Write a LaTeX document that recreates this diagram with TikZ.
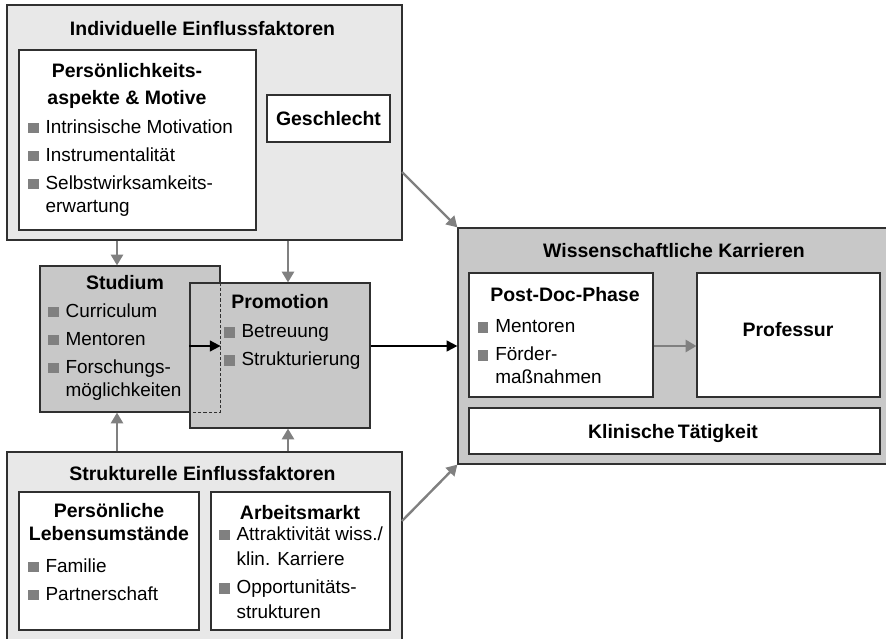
\documentclass[tikz,border=0pt]{standalone}
\usepackage{fontspec}
\setmainfont{Liberation Sans}
\usetikzlibrary{fit, arrows.meta}

\definecolor{lightbg}{HTML}{E8E8E8}
\definecolor{midbg}{HTML}{C8C8C8}
\definecolor{bulletgray}{HTML}{808080}
\definecolor{arrowgray}{HTML}{808080}
\definecolor{edgegray}{HTML}{303030}

\newcommand{\listbullet}{\textcolor{bulletgray}{\rule{7.8pt}{7.8pt}}\hspace{5.2pt}}
\newcommand{\listindent}{\hspace*{13pt}}

\begin{document}
\begin{tikzpicture}[x=0.75pt, y=-0.75pt,
    box/.style={draw=edgegray, line width=0.9pt, inner sep=0pt, fit={#1}},
    title/.style={font=\fontsize{14.6}{20}\selectfont\bfseries, inner sep=0pt, align=center},
    items/.style={font=\fontsize{14.2}{17.5}\selectfont, inner sep=0pt, align=left, anchor=north west},
    grayarrow/.style={arrowgray, line width=1.8pt, -{Triangle[length=8pt,width=9pt]}},
    blackarrow/.style={black, line width=1.4pt, -{Triangle[length=8pt,width=8pt]}}]
    \useasboundingbox (0,0) rectangle (886,639);

    % individual factors
    \node[box={(7,5) (402,240)}, fill=lightbg] (indiv) {};
    \node[title, anchor=base] (indivtitle) at (202.5,36) {Individuelle Einflussfaktoren};
    \node[box={(19,50) (256,230)}, fill=white] (pers) {};
    \node[title, anchor=north] (perstitle) at (127,63) {Persönlichkeits-\\aspekte \& Motive};
    \node[items] (perslist) at (28,119.3) {\listbullet Intrinsische Motivation\\[3.5pt]
        \listbullet Instrumentalität\\[3.5pt]
        \listbullet Selbstwirksamkeits-\\\listindent erwartung};
    \node[box={(267,95) (390,142)}, fill=white] (geschl) {};
    \node[title, anchor=base] (geschltitle) at (328.5,125) {Geschlecht};

    % Studium and Promotion
    \node[box={(40,266) (220,412)}, fill=midbg] (stud) {};
    \node[title, anchor=base] (studtitle) at (125,289) {Studium};
    \node[items] (studlist) at (48,303.3) {\listbullet Curriculum\\[3.5pt]
        \listbullet Mentoren\\[3.5pt]
        \listbullet Forschungs-\\\listindent möglichkeiten};
    \node[box={(190,283) (370,428)}, fill=midbg] (prom) {};
    \draw[edgegray, line width=0.7pt, dash pattern=on 2.5pt off 1.5pt]
        (stud.north east |- prom.north) -- (stud.south east) -- (stud.south east -| prom.west);
    \node[title, anchor=base] (promtitle) at (280,308) {Promotion};
    \node[items] (promlist) at (224,324.3) {\listbullet Betreuung\\[3.5pt]
        \listbullet Strukturierung};

    % structural factors
    \node[box={(7,452) (402,650)}, fill=lightbg] (struk) {};
    \node[title, anchor=base] (struktitle) at (202.5,480) {Strukturelle Einflussfaktoren};
    \node[box={(19,492) (199,630)}, fill=white] (pls) {};
    \node[title, anchor=north, font=\fontsize{14.6}{17}\selectfont\bfseries] (plstitle) at (109,503.3) {Persönliche\\Lebensumstände};
    \node[items] (plslist) at (28,558.3) {\listbullet Familie\\[3.5pt]
        \listbullet Partnerschaft};
    \node[box={(211,492) (390,630)}, fill=white] (arb) {};
    \node[title, anchor=base] (arbtitle) at (300,519) {Arbeitsmarkt};
    \node[items, font=\fontsize{14.2}{19}\selectfont] (arblist) at (219,526.3) {\listbullet Attraktivität wiss./\\\listindent klin. Karriere\\[2pt]
        \listbullet Opportunitäts-\\\listindent strukturen};

    % scientific careers
    \node[box={(458,228) (895,464)}, fill=midbg] (wiss) {};
    \node[title, anchor=base] (wisstitle) at (674,257) {Wissenschaftliche Karrieren};
    \node[box={(469,273) (653,397)}, fill=white] (postdoc) {};
    \node[title, anchor=base] (postdoctitle) at (565,301) {Post-Doc-Phase};
    \node[items] (postdoclist) at (477.7,319.3) {\listbullet Mentoren\\[3.5pt]
        \listbullet Förder-\\\listindent maßnahmen};
    \node[box={(697,273) (880,397)}, fill=white] (prof) {};
    \node[title, anchor=base] (proftitle) at (788,336) {Professur};
    \node[box={(469,408) (880,454)}, fill=white] (klin) {};
    \node[title, anchor=base] (klintitle) at (673,438) {Klinische\,Tätigkeit};

    % connectors
    \coordinate (colA) at (117,0);
    \coordinate (colB) at (288,0);
    \coordinate (indivout) at (402,172);
    \coordinate (strukout) at (402,521);
    \draw[grayarrow] (indiv.south -| colA) -- (stud.north -| colA);
    \draw[grayarrow] (indiv.south -| colB) -- (prom.north -| colB);
    \draw[grayarrow] (struk.north -| colA) -- (stud.south -| colA);
    \draw[grayarrow] (struk.north -| colB) -- (prom.south -| colB);
    \draw[grayarrow] (indivout) -- (wiss.north west);
    \draw[grayarrow] (strukout) -- (wiss.south west);
    \draw[grayarrow] (postdoc.east |- wiss.west) -- (prof.west |- wiss.west);
    \draw[blackarrow] (prom.west |- wiss.west) -- (stud.east |- wiss.west);
    \draw[blackarrow] (prom.east |- wiss.west) -- (wiss.west);
\end{tikzpicture}
\end{document}
